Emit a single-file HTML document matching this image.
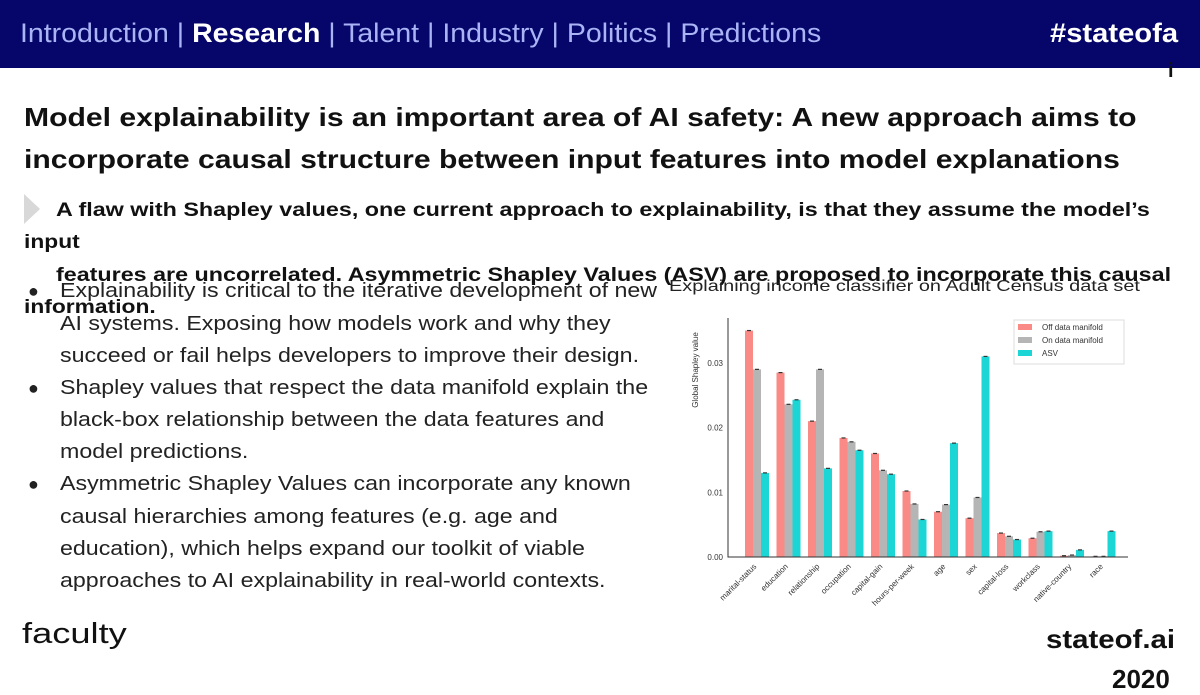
<!DOCTYPE html>
<html><head><meta charset="utf-8"><style>
body{margin:0;width:1200px;height:675px;overflow:hidden;background:#fff;font-family:"Liberation Sans",sans-serif;position:relative}
.abs{position:absolute;white-space:nowrap;transform-origin:0 0}
#hdr{position:absolute;left:0;top:0;width:1200px;height:68px;background:#05056a}
.nav{color:#aab4f5;font-size:27px;top:18px;left:20px;transform:scaleX(1.055)}
.nav b{color:#fff}
.title{left:24px;font-size:26px;font-weight:bold;color:#111;transform:scaleX(1.158)}
.sub{font-size:19px;font-weight:bold;color:#111}
.bl{left:60px;font-size:20px;color:#222;transform:scaleX(1.16)}
.dot{left:28px;font-size:18px;color:#222}
</style></head><body>
<div id="hdr"></div>
<div class="abs nav">Introduction | <b>Research</b> | Talent | Industry | Politics | Predictions</div>
<div class="abs" style="left:1050px;top:18px;font-size:27px;font-weight:bold;color:#fff;transform:scaleX(1.08)">#stateofa</div>
<div class="abs" style="left:1168px;top:60px;font-size:20px;font-weight:bold;color:#111">i</div>

<div class="abs title" style="top:102px">Model explainability is an important area of AI safety: A new approach aims to</div>
<div class="abs title" style="top:144px">incorporate causal structure between input features into model explanations</div>

<svg class="abs" style="left:24px;top:194px" width="18" height="30"><polygon points="0,0 16,15 0,30" fill="#d8d8d8"/></svg>
<div class="abs sub" style="left:56px;top:200px;transform:scaleX(1.227)">A flaw with Shapley values, one current approach to explainability, is that they assume the model’s</div>
<div class="abs sub" style="left:24px;top:232px;transform:scaleX(1.2)">input</div>
<div class="abs sub" style="left:56px;top:265px;transform:scaleX(1.226)">features are uncorrelated. Asymmetric Shapley Values (ASV) are proposed to incorporate this causal</div>
<div class="abs sub" style="left:24px;top:297px;transform:scaleX(1.2)">information.</div>

<div>
<div class="abs dot" style="top:281px">●</div>
<div class="abs bl" style="top:280px">Explainability is critical to the iterative development of new</div>
<div class="abs bl" style="top:313px">AI systems. Exposing how models work and why they</div>
<div class="abs bl" style="top:345px">succeed or fail helps developers to improve their design.</div>
<div class="abs dot" style="top:378px">●</div>
<div class="abs bl" style="top:377px">Shapley values that respect the data manifold explain the</div>
<div class="abs bl" style="top:409px">black-box relationship between the data features and</div>
<div class="abs bl" style="top:441px">model predictions.</div>
<div class="abs dot" style="top:474px">●</div>
<div class="abs bl" style="top:473px">Asymmetric Shapley Values can incorporate any known</div>
<div class="abs bl" style="top:506px">causal hierarchies among features (e.g. age and</div>
<div class="abs bl" style="top:538px">education), which helps expand our toolkit of viable</div>
<div class="abs bl" style="top:570px">approaches to AI explainability in real-world contexts.</div>
</div>

<div class="abs" style="left:669px;top:278px;font-size:16px;color:#222;transform:scaleX(1.243)">Explaining income classifier on Adult Census data set</div>

<svg id="chart" class="abs" style="left:0;top:0" width="1200" height="675"></svg>

<div class="abs" style="left:22px;top:618px;font-size:29px;color:#111;transform:scaleX(1.25)">faculty</div>
<div class="abs" style="left:1046px;top:624px;font-size:26px;font-weight:bold;color:#111;transform:scaleX(1.13)">stateof.ai</div>
<div class="abs" style="left:1112px;top:664px;font-size:26px;font-weight:bold;color:#111">2020</div>

<script>
const categories=["marital-status","education","relationship","occupation","capital-gain","hours-per-week","age","sex","capital-loss","workclass","native-country","race"];
const offManifold=[0.035,0.0285,0.021,0.0184,0.016,0.0102,0.007,0.006,0.0037,0.0029,0.0002,0.0001];
const onManifold=[0.029,0.0236,0.029,0.0178,0.0134,0.0082,0.0081,0.0092,0.0032,0.0039,0.0003,0.0001];
const asv=[0.013,0.0243,0.0137,0.0165,0.0128,0.0058,0.0176,0.031,0.0027,0.0040,0.0011,0.0040];
const yTicks=[0,0.01,0.02,0.03];
const yTickLabels=["0.00","0.01","0.02","0.03"];
const seriesNames=["Off data manifold","On data manifold","ASV"];

const svg=document.getElementById('chart');
const NS='http://www.w3.org/2000/svg';
const x0=728,x1=1128,y0=557,yTop=318;
const y=v=>y0-v*6470;
const groupX=i=>745+i*31.5;
const bw=8;
const colors=["#f98a86","#b5b5b5","#1cd6d6"];
function mk(t,a){const e=document.createElementNS(NS,t);for(const k in a)e.setAttribute(k,a[k]);svg.appendChild(e);return e;}
[offManifold,onManifold,asv].forEach((s,si)=>{
  s.forEach((v,i)=>{
    const r=mk('rect',{x:groupX(i)+si*bw,y:y(v),width:bw,height:y0-y(v),fill:colors[si]});
    
    
    const l=mk('line',{x1:groupX(i)+si*bw+bw/2-2,x2:groupX(i)+si*bw+bw/2+2,y1:y(v),y2:y(v),stroke:'#333','stroke-width':1.2});
    
    
  });
});
const ax=mk('path',{d:`M${x0} ${yTop}V${y0}H${x1}`,fill:'none',stroke:'#333','stroke-width':1});


yTicks.forEach((t,i)=>{
  const tx=mk('text',{x:x0-5,y:y(t)+3,'font-size':8,'text-anchor':'end',fill:'#333','font-family':'Liberation Sans'});
  tx.textContent=yTickLabels[i];
  
  
});
const yt=mk('text',{x:0,y:0,'font-size':8,'text-anchor':'middle',fill:'#333',transform:'translate(698,370) rotate(-90)','font-family':'Liberation Sans'});
yt.textContent='Global Shapley value';


categories.forEach((c,i)=>{
  const cx=groupX(i)+12;
  const tx=mk('text',{x:0,y:0,'font-size':8,'text-anchor':'end',fill:'#333',transform:`translate(${cx},${y0+10}) rotate(-45)`,'font-family':'Liberation Sans'});
  tx.textContent=c;
  
  
});
const lg=mk('rect',{x:1014,y:320,width:110,height:44,fill:'#fff',stroke:'#ddd'});


seriesNames.forEach((n,i)=>{
  const sw=mk('rect',{x:1018,y:324+i*13,width:14,height:6,fill:colors[i]});
  
  
  const t=mk('text',{x:1042,y:330+i*13,'font-size':8,fill:'#333','font-family':'Liberation Sans'});
  t.textContent=n;
  
  
});
</script>
</body></html>
